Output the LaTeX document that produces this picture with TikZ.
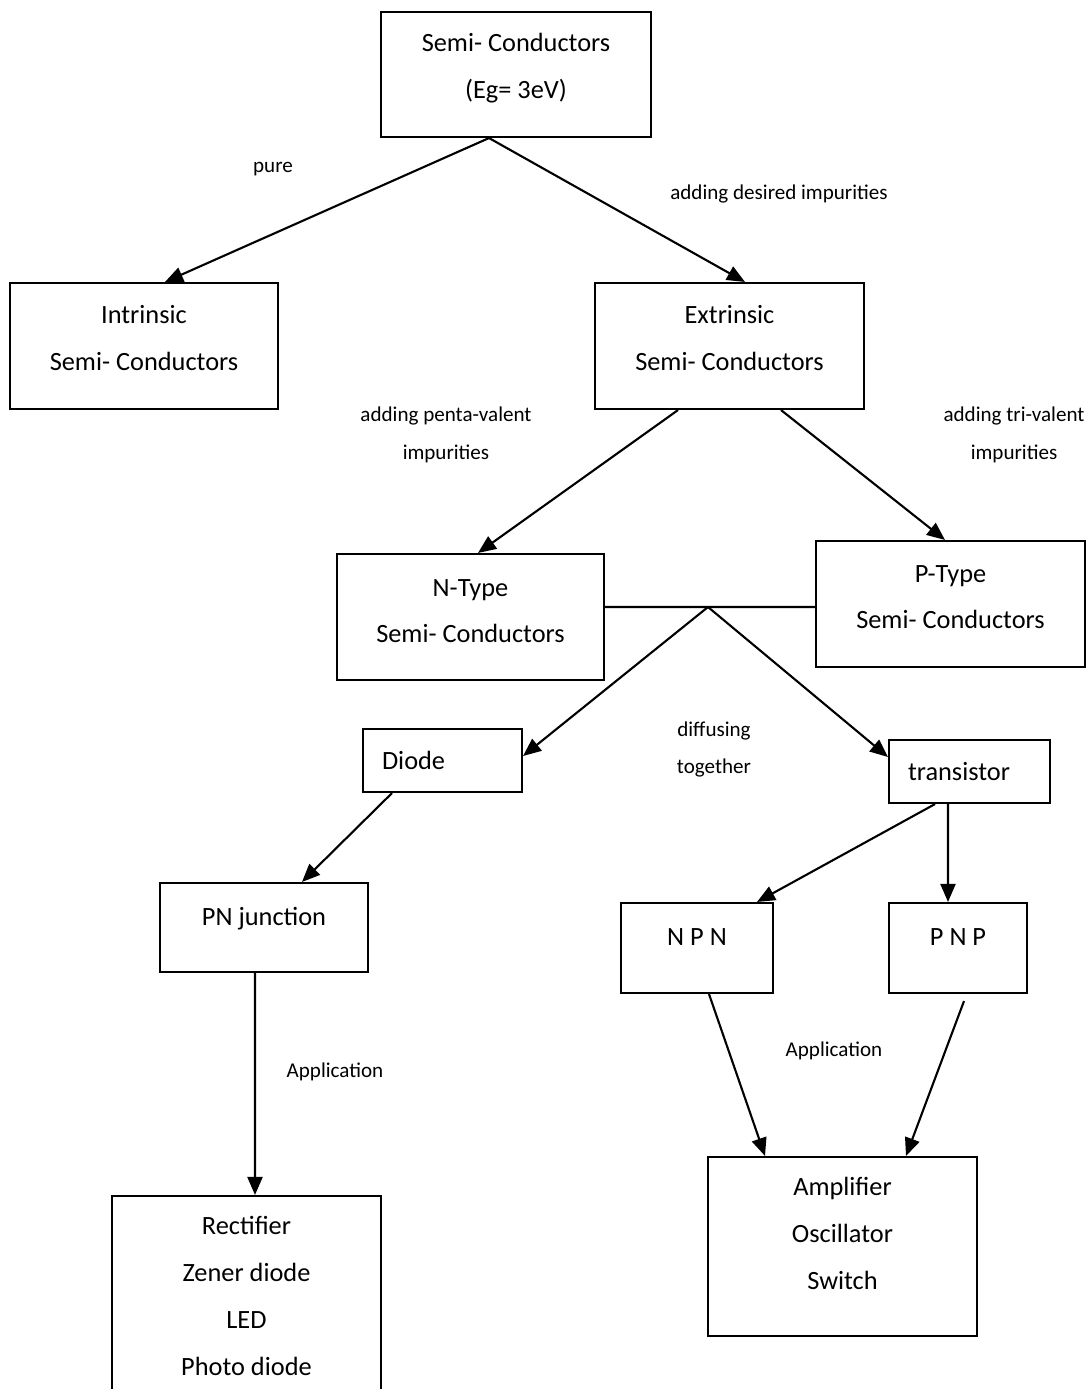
\documentclass[tikz,border=0pt]{standalone}
\usepackage{fontspec}
\setmainfont{Carlito}
\usetikzlibrary{arrows.meta}

% extra depth below the last line, lifts the text a little in its box
\newcommand{\lowstrut}[1]{\rule[-#1]{0pt}{#1}}

\tikzset{
  blk/.style={draw, line width=1.2pt, align=center, inner sep=0pt,
    font=\fontsize{15}{26.6}\selectfont},
  lbl/.style={align=center, inner sep=0pt, font=\fontsize{12}{21.5}\selectfont},
  arr/.style={line width=1.2pt, -{Triangle[length=0.36cm, width=0.3cm]}}
}

\begin{document}
\begin{tikzpicture}[x=0.02cm, y=-0.02cm]
\useasboundingbox (0,0) rectangle (1091,1389);
% boxes
\node[blk, minimum width=5.4cm, minimum height=2.5cm] (semi) at (516,74.5) {Semi- Conductors\\(Eg= 3eV)\lowstrut{0.35cm}};
\node[blk, minimum width=5.36cm, minimum height=2.52cm] (intr) at (144,346) {Intrinsic\\Semi- Conductors\lowstrut{0.32cm}};
\node[blk, minimum width=5.38cm, minimum height=2.52cm] (extr) at (729.5,346) {Extrinsic\\Semi- Conductors\lowstrut{0.32cm}};
\node[blk, minimum width=5.34cm, minimum height=2.52cm] (ntype) at (470.5,617) {N-Type\\Semi- Conductors\lowstrut{0.24cm}};
\node[blk, minimum width=5.38cm, minimum height=2.52cm] (ptype) at (950.5,604) {P-Type\\Semi- Conductors\lowstrut{0.28cm}};
\node[blk, align=left, text width=2.42cm, inner xsep=0.38cm, minimum height=1.26cm] (diode) at (442.5,760.5) {Diode};
\node[blk, align=left, text width=2.46cm, inner xsep=0.38cm, minimum height=1.26cm] (trans) at (969.5,771.5) {transistor};
\node[blk, minimum width=4.16cm, text height=0.84cm, text depth=0.94cm] (pnj) at (264,927.5) {PN junction};
\node[blk, minimum width=3.04cm, text height=0.84cm, text depth=0.96cm] (npn) at (697,948) {N P N};
\node[blk, minimum width=2.76cm, text height=0.84cm, text depth=0.96cm] (pnp) at (958,948) {P N P};
\node[blk, minimum width=5.38cm, minimum height=4cm] (rect) at (246.5,1296) {Rectifier\\Zener diode\\LED\\Photo diode};
\node[blk, minimum width=5.38cm, minimum height=3.58cm] (amp) at (842.5,1246.5) {Amplifier\\Oscillator\\Switch\lowstrut{0.52cm}};
% labels
\node[lbl] (lpure) at (273,169) {pure};
\node[lbl] (ldesired) at (779,193.5) {adding desired impurities};
\node[lbl] (lpenta) at (446,434.5) {adding penta-valent\\impurities};
\node[lbl] (ltri) at (1014,434.5) {adding tri-valent\\impurities};
\node[lbl] (ldiff) at (714,749.5) {diffusing\\together};
\node[lbl] (lapp1) at (335,1071.5) {Application};
\node[lbl] (lapp2) at (834,1050.5) {Application};
% connectors
\coordinate (junc) at (708,607);
\draw[arr] ([xshift=-0.54cm]semi.south) -- ([xshift=0.42cm]intr.north);
\draw[arr] ([xshift=-0.54cm]semi.south) -- ([xshift=0.31cm]extr.north);
\draw[arr] ([xshift=-1.03cm]extr.south) -- ([xshift=0.15cm]ntype.north);
\draw[arr] ([xshift=1.03cm]extr.south) -- ([xshift=-0.11cm]ptype.north);
\draw[line width=1.2pt] ([yshift=0.2cm]ntype.east) -- (junc) -- ([yshift=-0.06cm]ptype.west);
\draw[arr] (junc) -- ([yshift=0.09cm]diode.east);
\draw[arr] (junc) -- ([yshift=0.29cm]trans.west);
\draw[arr] ([xshift=-1.01cm]diode.south) -- ([xshift=0.76cm]pnj.north);
\draw[arr] ([xshift=-0.69cm]trans.south) -- ([xshift=1.2cm]npn.north);
\draw[arr] ([xshift=-0.43cm]trans.south) -- ([xshift=-0.2cm]pnp.north);
\draw[arr] ([xshift=-0.18cm]pnj.south) -- ([xshift=0.17cm]rect.north);
\draw[arr] ([xshift=0.24cm]npn.south) -- ([xshift=-1.55cm]amp.north);
\draw[arr] ([xshift=0.12cm, yshift=-0.14cm]pnp.south) -- ([xshift=1.27cm]amp.north);
\end{tikzpicture}
\end{document}
